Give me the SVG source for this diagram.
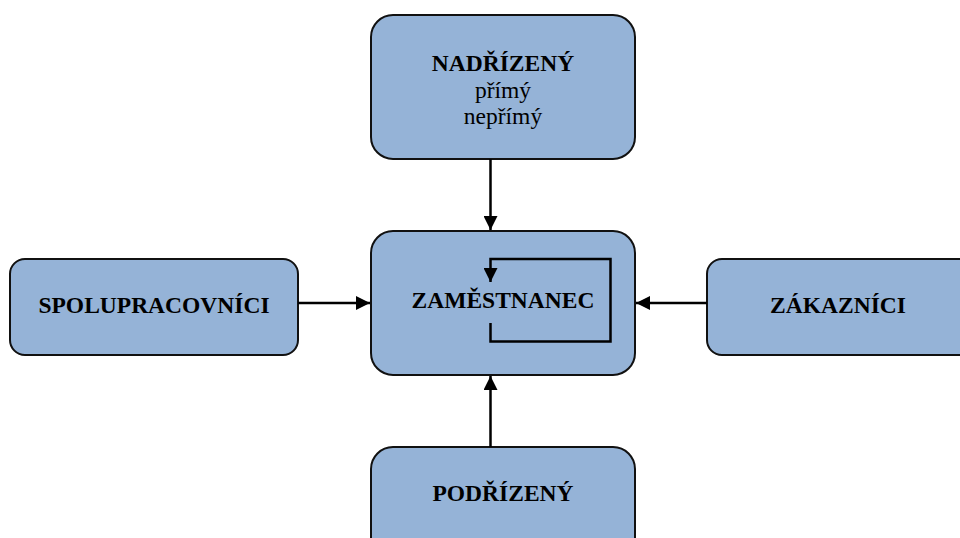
<svg xmlns="http://www.w3.org/2000/svg" width="960" height="538" viewBox="0 0 960 538">
  <style>
    .box { fill: #95b3d7; stroke: #111; stroke-width: 2; }
    .t { font-family: "Liberation Serif", "Times New Roman", serif; font-size: 23.5px; fill: #000; text-anchor: middle; }
    .b { font-weight: bold; }
    .edge { fill: none; stroke: #000; stroke-width: 2.5; }
  </style>
  <defs>
    <marker id="arrow" viewBox="0 0 14 14" refX="14" refY="7" markerWidth="14" markerHeight="14" markerUnits="userSpaceOnUse" orient="auto">
      <path d="M0,0 L14,7 L0,14 Z" fill="#000"/>
    </marker>
  </defs>
  <rect width="960" height="538" fill="#fff"/>

  <g id="nadrizeny">
    <rect class="box" x="371" y="15" width="264" height="144" rx="22"/>
    <text class="t b" x="503" y="71">NADŘÍZENÝ</text>
    <text class="t" x="503" y="98">přímý</text>
    <text class="t" x="503" y="124">nepřímý</text>
  </g>

  <g id="zamestnanec">
    <rect class="box" x="371" y="231" width="264" height="144" rx="22"/>
    <text class="t b" x="503" y="308">ZAMĚSTNANEC</text>
  </g>

  <g id="spolupracovnici">
    <rect class="box" x="10" y="259" width="288" height="96" rx="15"/>
    <text class="t b" x="154" y="313">SPOLUPRACOVNÍCI</text>
  </g>

  <g id="zakaznici">
    <rect class="box" x="707" y="259" width="270" height="96" rx="15"/>
    <text class="t b" x="838" y="313">ZÁKAZNÍCI</text>
  </g>

  <g id="podrizeny">
    <rect class="box" x="371" y="447" width="264" height="144" rx="22"/>
    <text class="t b" x="503" y="501">PODŘÍZENÝ</text>
  </g>

  <g id="connectors">
    <line class="edge" x1="490.5" y1="159" x2="490.5" y2="230" marker-end="url(#arrow)"/>
    <line class="edge" x1="490.5" y1="447" x2="490.5" y2="376" marker-end="url(#arrow)"/>
    <line class="edge" x1="298" y1="303" x2="370" y2="303" marker-end="url(#arrow)"/>
    <line class="edge" x1="707" y1="303" x2="636" y2="303" marker-end="url(#arrow)"/>
    <path class="edge" d="M490.5,323 V341.5 H610.5 V259 H490.5 V282" marker-end="url(#arrow)"/>
  </g>
</svg>
